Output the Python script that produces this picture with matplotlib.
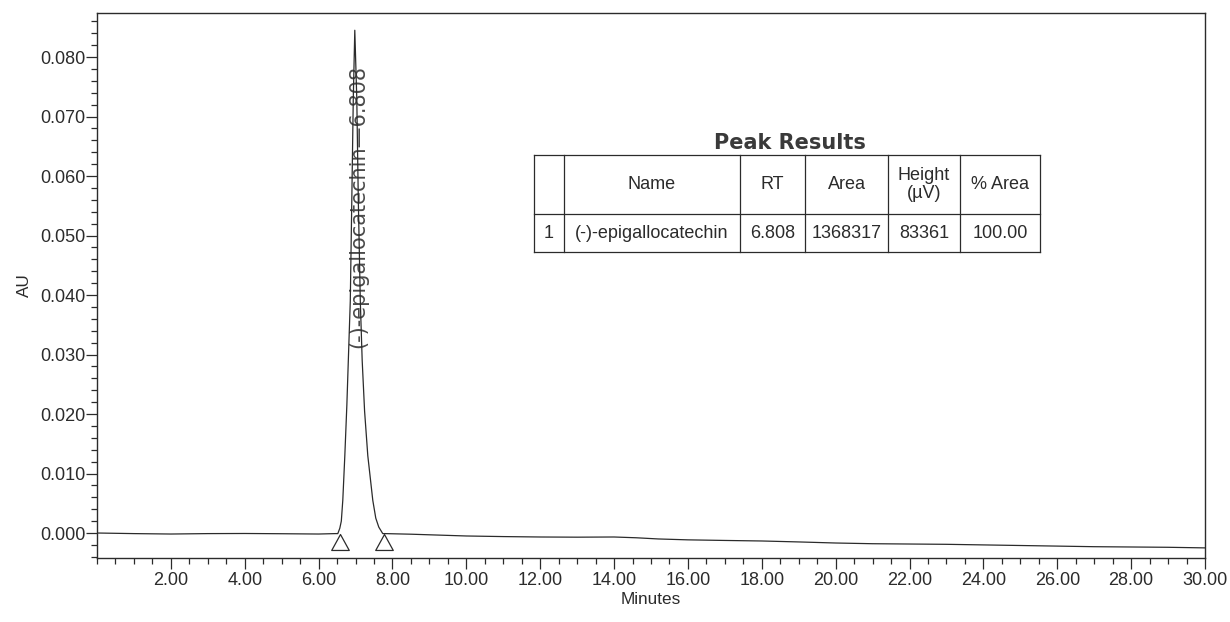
import matplotlib
matplotlib.use('Agg')
import matplotlib.pyplot as plt
from matplotlib.ticker import MultipleLocator, FixedLocator, FormatStrFormatter
from matplotlib.path import Path

plt.rcParams['font.family'] = ['Liberation Sans', 'DejaVu Sans']

# ---------------- data ----------------
baseline_time = [0.0, 1.0, 2.0, 3.0, 4.0, 5.0, 6.0, 6.45,
                 7.8, 8.5, 9.0, 10.0, 11.0, 12.0, 13.0, 14.0, 14.6, 15.2,
                 16.0, 17.0, 18.0, 19.0, 20.0, 21.0, 22.0, 23.0, 24.0,
                 25.0, 26.0, 27.0, 28.0, 29.0, 30.0]
baseline_au = [0.0000, -0.0001, -0.00017, -0.0001, -0.00008, -0.00012, -0.00017, -0.0001,
               -0.0001, -0.0002, -0.0003, -0.0005, -0.0006, -0.00067, -0.0007, -0.00067, -0.0008, -0.001,
               -0.00115, -0.00125, -0.00134, -0.0015, -0.00168, -0.0018, -0.00185, -0.0019, -0.002,
               -0.0021, -0.0022, -0.0023, -0.00235, -0.0024, -0.0025]

peak_time = [6.52, 6.574, 6.615, 6.655, 6.71, 6.765, 6.81, 6.858, 6.899, 6.939, 6.98,
             7.034, 7.075, 7.129, 7.18, 7.245, 7.332, 7.467, 7.548, 7.629, 7.737]
peak_au = [-0.0001, 0.0008, 0.002, 0.0055, 0.013, 0.0215, 0.030, 0.039, 0.056, 0.073, 0.0845,
           0.073, 0.056, 0.039, 0.029, 0.0205, 0.013, 0.0055, 0.0025, 0.001, -0.0001]

integration_time = [6.57, 7.76]
integration_au = [-0.0002, -0.0002]

peak_name = "(-)-epigallocatechin"
peak_rt = "6.808"
peak_label_time = 7.08
peak_label_au = 0.0311

x_major_ticks = [2, 4, 6, 8, 10, 12, 14, 16, 18, 20, 22, 24, 26, 28, 30]

table_title = "Peak Results"
table_header = ["", "Name", "RT", "Area", "Height\n(\u00b5V)", "% Area"]
table_row = ["1", "(-)-epigallocatechin", "6.808", "1368317", "83361", "100.00"]

# ---------------- build trace ----------------
pts = sorted(zip(baseline_time + peak_time, baseline_au + peak_au))
trace_time = [p[0] for p in pts]
trace_au = [p[1] for p in pts]

ink = '#2b2b2b'
W, H = 1230, 622
fig = plt.figure(figsize=(W / 100, H / 100), dpi=100, facecolor='white')
ax = fig.add_axes([97 / W, 1 - 558 / H, 1108 / W, 545 / H])
ax.set_facecolor('white')

ax.plot(trace_time, trace_au, color=ink, lw=0.9, zorder=3)

# integration start / end markers (open triangles hanging from baseline)
tri = Path([(0, 0), (-0.55, -1), (0.55, -1), (0, 0)],
           [Path.MOVETO, Path.LINETO, Path.LINETO, Path.CLOSEPOLY])
ax.plot(integration_time, integration_au, linestyle='none', marker=tri,
        markersize=23, markerfacecolor='white', markeredgecolor=ink,
        markeredgewidth=0.9, zorder=4)

ax.text(peak_label_time, peak_label_au, f"{peak_name}\u2014{peak_rt}",
        rotation=90, ha='center', va='bottom', fontsize=15, color='#4a4a4a',
        family=['DejaVu Sans'], zorder=2)

ax.set_xlim(0, 30)
ax.set_ylim(-0.0042, 0.0874)

ax.xaxis.set_major_locator(FixedLocator(x_major_ticks))
ax.xaxis.set_minor_locator(MultipleLocator(0.5))
ax.xaxis.set_major_formatter(FormatStrFormatter('%.2f'))
ax.yaxis.set_major_locator(MultipleLocator(0.01))
ax.yaxis.set_minor_locator(MultipleLocator(0.002))
ax.yaxis.set_major_formatter(FormatStrFormatter('%.3f'))

ax.tick_params(axis='both', which='both', direction='out', color=ink,
               labelcolor=ink, labelsize=13, width=0.9)
ax.tick_params(axis='x', which='major', length=8, pad=2)
ax.tick_params(axis='x', which='minor', length=4)
ax.tick_params(axis='y', which='major', length=8, pad=0.5)
ax.tick_params(axis='y', which='minor', length=4.5)

for s in ax.spines.values():
    s.set_color(ink)
    s.set_linewidth(1.0)

ax.set_xlabel("Minutes", fontsize=12.3, color=ink, labelpad=2)
ax.set_ylabel("AU", fontsize=12.3, color=ink, labelpad=6)

# ---------------- peak results table (overlay in pixel coordinates) ----------------
ov = fig.add_axes([0, 0, 1, 1], zorder=5)
ov.set_xlim(0, W)
ov.set_ylim(H, 0)
ov.axis('off')
ov.patch.set_alpha(0)

col_edges = [534, 564, 740, 805, 888, 960, 1040]
row_edges = [155, 214, 252]
ov.fill_between([col_edges[0], col_edges[-1]], row_edges[0], row_edges[-1],
                color='white', zorder=1)
for y in row_edges:
    ov.plot([col_edges[0], col_edges[-1]], [y, y], color=ink, lw=0.9, zorder=2)
for x in col_edges:
    ov.plot([x, x], [row_edges[0], row_edges[-1]], color=ink, lw=0.9, zorder=2)

ov.text((col_edges[0] + col_edges[-1]) / 2 + 3, 143, table_title, ha='center', va='center',
        fontsize=15, fontweight='bold', family=['DejaVu Sans'], color='#3a3a3a')

for i in range(len(table_header)):
    xc = (col_edges[i] + col_edges[i + 1]) / 2
    ov.text(xc, (row_edges[0] + row_edges[1]) / 2, table_header[i], ha='center', va='center',
            fontsize=13, color=ink, linespacing=1.1)
    ov.text(xc, (row_edges[1] + row_edges[2]) / 2 + 1, table_row[i], ha='center', va='center',
            fontsize=13, color=ink)

fig.savefig('out.png', dpi=100, facecolor='white')
